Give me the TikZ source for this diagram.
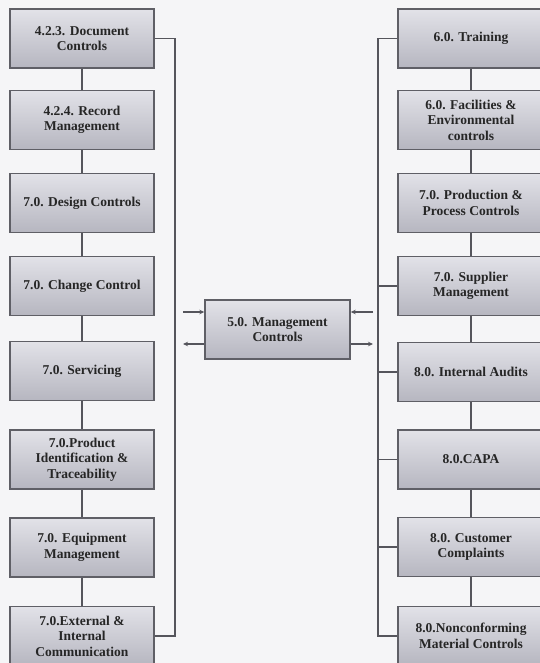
\documentclass[tikz,border=0pt]{standalone}
\usepackage{fontspec}
\setmainfont{Liberation Serif}
\usepackage{tikz}
\usetikzlibrary{arrows.meta}
\usetikzlibrary{positioning}
\definecolor{boxtop}{RGB}{226,226,232}
\definecolor{boxbottom}{RGB}{182,182,192}
\definecolor{boxline}{RGB}{95,95,102}
\definecolor{wirecol}{RGB}{85,85,92}
\definecolor{paper}{RGB}{245,245,247}
\tikzset{
    unit/.style={draw=boxline, line width=1.4pt, top color=boxtop, bottom color=boxbottom,
        minimum width=144pt, minimum height=59pt, inner sep=0pt, align=center,
        text=black!85, font=\fontsize{13.5}{15.5}\selectfont\bfseries},
    runit/.style={unit, minimum width=146pt},
    wire/.style={draw=wirecol, line width=1.2pt},
    flow/.style={draw=wirecol, line width=1.2pt, -{Stealth[length=5pt,width=4.5pt]}},
}

\begin{document}
\begin{tikzpicture}[x=1pt, y=-1pt]
\useasboundingbox (0,0) rectangle (540,663);
\fill[paper] (0,0) rectangle (540,663);
\clip (0,0) rectangle (540,663);
% left column
	\node[unit] (L1) at (82,38.5) {4.2.3. Document\\Controls};
	\node[unit] (L2) at (82,120) {4.2.4. Record\\Management};
	\node[unit] (L3) at (82,203) {7.0. Design Controls};
	\node[unit] (L4) at (82,286) {7.0. Change Control};
	\node[unit] (L5) at (82,371) {7.0. Servicing};
	\node[unit] (L6) at (82,459.5) {7.0.Product\\Identification \&\\Traceability};
	\node[unit] (L7) at (82,547.5) {7.0. Equipment\\Management};
	\node[unit] (L8) at (82,636) {7.0.External \&\\Internal\\Communication};
% right column
	\node[runit] (R1) at (471,38.5) {6.0. Training};
	\node[runit] (R2) at (471,120) {6.0. Facilities \&\\Environmental\\controls};
	\node[runit] (R3) at (471,203) {7.0. Production \&\\Process Controls};
	\node[runit] (R4) at (471,286) {7.0. Supplier\\Management};
	\node[runit] (R5) at (471,372) {8.0. Internal Audits};
	\node[runit] (R6) at (471,459.5) {8.0.CAPA};
	\node[runit] (R7) at (471,547) {8.0. Customer\\Complaints};
	\node[runit] (R8) at (471,636) {8.0.Nonconforming\\Material Controls};
% centre
	\node[unit, minimum width=145pt] (M) at (277.5,329.5) {5.0. Management\\Controls};
	\coordinate (lbus) at (175,0);
	\coordinate (rbus) at (378,0);
	\coordinate (lin) at (183,312);
	\coordinate (lout) at (183,344);
	\coordinate (rin) at (373,312);
	\coordinate (rout) at (373,344);
% chains
	\foreach \a/\b in {1/2,2/3,3/4,4/5,5/6,6/7,7/8} {
		\draw[wire] (L\a.south) -- (L\b.north);
		\draw[wire] (R\a.south) -- (R\b.north);
	}
	\draw[wire] (L1.east) -- (L1.east -| lbus) -- (L8.east -| lbus) -- (L8.east);
	\draw[wire] (R1.west) -- (R1.west -| rbus) -- (R8.west -| rbus) -- (R8.west);
	\foreach \n in {4,5,6,7}
		\draw[wire] (R\n.west -| rbus) -- (R\n.west);
% arrows
	\draw[flow] (lin) -- (lin -| M.west);
	\draw[flow] (lout -| M.west) -- (lout);
	\draw[flow] (rin) -- (rin -| M.east);
	\draw[flow] (rout -| M.east) -- (rout);
\end{tikzpicture}
\end{document}
